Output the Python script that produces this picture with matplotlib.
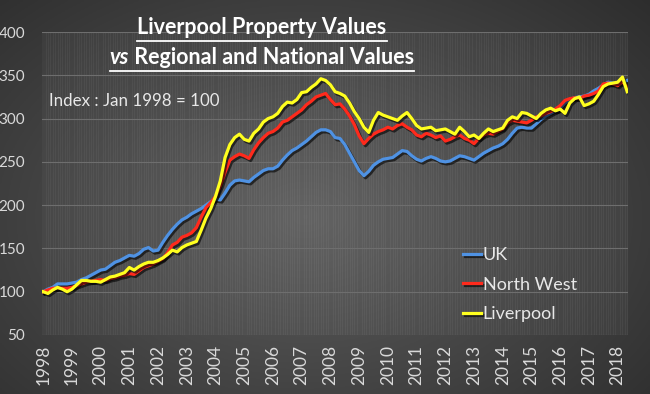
import numpy as np
import matplotlib
matplotlib.use('Agg')
from matplotlib import pyplot as plt
from matplotlib import patheffects as pe

plt.rcParams['font.family'] = ['Lato', 'DejaVu Sans']

# index values read every two months from Jan 1998
uk = [100, 103, 105, 109, 109, 109, 110, 111, 114, 116, 119, 122,
      125, 126, 130, 134, 136, 139, 142, 141, 144, 149, 151, 147,
      148, 157, 165, 172, 178, 183, 186, 190, 193, 196, 200, 204,
      207, 206, 214, 223, 228, 229, 228, 227, 232, 236, 240, 242,
      242, 245, 252, 258, 263, 266, 270, 274, 279, 284, 287, 287,
      285, 278, 277, 270, 260, 250, 240, 234, 239, 246, 250, 253,
      254, 255, 259, 263, 262, 257, 253, 251, 254, 256, 254, 251,
      250, 251, 254, 257, 256, 254, 252, 256, 260, 263, 266, 268,
      271, 276, 283, 289, 290, 289, 289, 294, 299, 303, 306, 309,
      312, 318, 322, 324, 325, 326, 328, 332, 335, 339, 342, 341,
      340, 342, 344]
north_west = [100, 102, 104, 104, 104, 104, 105, 107, 109, 111, 112, 113,
              114, 113, 115, 116, 118, 119, 121, 120, 124, 128, 130, 132,
              135, 138, 145, 154, 157, 163, 165, 168, 174, 186, 197, 203,
              210, 222, 238, 252, 256, 259, 257, 254, 264, 272, 278, 283,
              285, 289, 296, 298, 302, 306, 310, 316, 320, 325, 327, 329,
              322, 316, 317, 311, 303, 293, 280, 271, 277, 282, 285, 287,
              290, 288, 292, 294, 290, 287, 281, 279, 283, 281, 278, 280,
              274, 276, 279, 281, 277, 275, 271, 277, 281, 283, 282, 285,
              288, 295, 298, 297, 296, 295, 298, 302, 303, 306, 308, 311,
              315, 321, 323, 324, 323, 326, 327, 329, 332, 340, 341, 340,
              338, 343, 336]
liverpool = [100, 98, 102, 105, 103, 100, 103, 108, 113, 113, 112, 112,
             111, 114, 117, 118, 120, 122, 128, 125, 129, 132, 134, 134,
             136, 139, 143, 148, 146, 151, 154, 156, 158, 171, 185, 196,
             210, 228, 255, 270, 278, 282, 276, 274, 283, 288, 296, 300,
             302, 306, 314, 319, 318, 322, 330, 331, 336, 340, 346, 344,
             339, 331, 329, 326, 318, 308, 300, 290, 284, 298, 307, 304,
             302, 300, 298, 303, 307, 300, 292, 288, 289, 290, 286, 287,
             288, 285, 282, 290, 285, 279, 281, 277, 283, 288, 285, 287,
             289, 298, 302, 300, 307, 306, 303, 300, 306, 310, 312, 309,
             311, 306, 318, 323, 325, 315, 317, 320, 328, 337, 340, 341,
             342, 348, 331]
series_names = ['UK', 'North West', 'Liverpool']
series_colors = ['#4f92e3', '#ff2a1c', '#ffff1f']
year_labels = [str(y) for y in range(1998, 2019)]

dates = 1998 + np.arange(len(uk)) / 6.0

W, H = 650, 394
fig = plt.figure(figsize=(W / 100, H / 100), dpi=100)

# radial grey background
bg = fig.add_axes([0, 0, 1, 1], zorder=-10)
gx, gy = np.meshgrid(np.linspace(0, 1, 300), np.linspace(0, 1, 200))
r = np.sqrt(((gx - 0.47) / 0.75) ** 2 + ((gy - 0.45) / 0.85) ** 2)
shade = np.clip(0.37 - 0.2 * r, 0.17, 0.4)
bg.imshow(np.dstack([shade] * 3), extent=[0, 1, 0, 1], aspect='auto', origin='lower')
bg.axis('off')

ax = fig.add_axes([42 / W, 1 - 335 / H, (628 - 42) / W, (335 - 32) / H])
ax.set_facecolor((1, 1, 1, 0.03))
for s in ax.spines.values():
    s.set_visible(False)

shadow = [pe.SimpleLineShadow(offset=(1.2, -1.5), shadow_color='black', alpha=0.6), pe.Normal()]
for vals, name, col in zip([uk, north_west, liverpool], series_names, series_colors):
    ax.plot(dates, vals, color=col, lw=2.3, label=name, path_effects=shadow, solid_joinstyle='round')

ax.set_ylim(50, 400)
ax.set_yticks(range(50, 401, 50))
ax.set_xlim(1997.96, 2018.36)
ax.set_xticks(range(1998, 2019))
ax.set_xticklabels(year_labels, rotation=90)
ax.set_xticks(np.arange(1998, 2018.4, 1 / 12), minor=True)
ax.tick_params(axis='both', which='both', length=0, colors='#d9d9d9')
ax.tick_params(axis='y', pad=12, labelsize=11)
ax.tick_params(axis='x', pad=7, labelsize=12.5)
ax.grid(axis='y', color='#6e6e6e', lw=0.8)
ax.grid(axis='x', which='minor', color='#ffffff', alpha=0.05, lw=0.6)
ax.set_axisbelow(True)

leg = ax.legend(loc='upper left', bbox_to_anchor=(463 / W, 1 - 247 / H), bbox_transform=fig.transFigure,
                frameon=False, fontsize=13, handlelength=1.0, handletextpad=0.1, labelspacing=0.75,
                borderaxespad=0, borderpad=0)
for t in leg.get_texts():
    t.set_color('#e8e8e8')

fig.text(49 / W, 1 - 106 / H, 'Index : Jan 1998 = 100', color='#e8e8e8', fontsize=12.2, va='baseline')

# title, underlined, "vs" in italics
t1 = fig.text(262 / W, 1 - 33.5 / H, 'Liverpool Property Values', color='white', fontsize=15.5,
              fontweight='bold', ha='center', va='baseline')
t2a = fig.text(0, 1 - 64 / H, 'vs', color='white', fontsize=15.5, fontweight='bold', style='italic', va='baseline')
t2b = fig.text(0, 1 - 64 / H, ' Regional and National Values', color='white', fontsize=15.5,
               fontweight='bold', va='baseline')
fig.canvas.draw()
rend = fig.canvas.get_renderer()
wa = t2a.get_window_extent(rend).width
wb = t2b.get_window_extent(rend).width
x0 = 262 - (wa + wb) / 2
t2a.set_x(x0 / W)
t2b.set_x((x0 + wa) / W)
fig.canvas.draw()
for parts, uy in [([t1], 41), ([t2a, t2b], 71)]:
    ext = [p.get_window_extent(rend) for p in parts]
    xa = min(e.x0 for e in ext) / W
    xb = max(e.x1 for e in ext) / W
    fig.add_artist(plt.Line2D([xa, xb], [1 - uy / H] * 2, color='white', lw=1.3,
                              transform=fig.transFigure))

fig.savefig('out.png', dpi=100)
